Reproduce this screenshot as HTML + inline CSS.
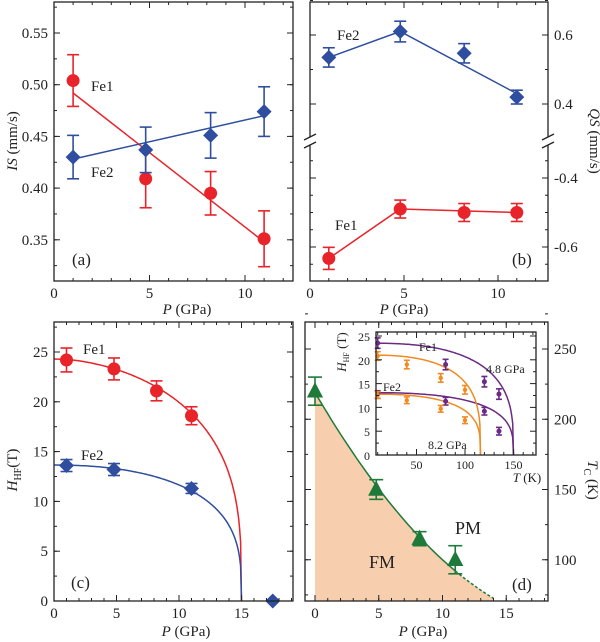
<!DOCTYPE html>
<html><head><meta charset="utf-8"><style>
html,body{margin:0;padding:0;background:#fff}
svg{display:block;font-family:"Liberation Serif",serif}
text{font-family:"Liberation Serif",serif}
</style></head><body>
<svg id="fig" width="600" height="642" viewBox="0 0 600 642" font-family="Liberation Serif, serif"></svg>
<script>
// ---------- data ----------
const pressA = [1, 4.8, 8.2, 11];
const isFe1 = [0.504, 0.409, 0.395, 0.351];
const isFe1Err = [0.025, 0.028, 0.021, 0.027];
const isFe2 = [0.430, 0.437, 0.451, 0.474];
const isFe2Err = [0.021, 0.022, 0.022, 0.024];
const isFe1Fit = [[1, 0.492], [11, 0.348]];
const isFe2Fit = [[1, 0.428], [11, 0.470]];

const qsFe2 = [0.535, 0.61, 0.547, 0.42];
const qsFe2Err = [0.028, 0.03, 0.028, 0.02];
const qsFe1 = [-0.633, -0.49, -0.5, -0.5];
const qsFe1Err = [0.032, 0.026, 0.026, 0.026];
const qsFe2Line = [[1, 0.535], [4.8, 0.61], [11, 0.43]];
const qsFe1Line = [[1, -0.633], [4.8, -0.49], [11, -0.5]];

const hfFe1P = [1, 4.8, 8.2, 11];
const hfFe1 = [24.2, 23.3, 21.1, 18.6];
const hfFe1Err = [1.2, 1.1, 1.0, 0.9];
const hfFe2P = [1, 4.8, 11, 17.5];
const hfFe2 = [13.6, 13.2, 11.3, 0];
const hfFe2Err = [0.6, 0.6, 0.5, 0];
const hfPc = 15;
const hfH0 = [24.3, 13.65];

const tcP = [0, 4.8, 8.2, 11];
const tcVal = [220, 150, 115, 100];
const tcErr = [10, 7, 5, 10];
const tcFitCoef = [219, -15.5, 0.36];

const inT48 = [10, 80, 120, 135];
const inFe1_48 = [23.5, 19, 15.4, 12.8];
const inFe2_48 = [12.7, 11.3, 9.2, 5];
const inT82 = [10, 40, 75, 100];
const inFe1_82 = [20.8, 19, 16.2, 13.7];
const inFe2_82 = [12.6, 11.5, 9.7, 7.3];
const inTc = [150, 116];
const inH0_48 = [23.5, 13.1];
const inH0_82 = [21, 12.8];

// ---------- helpers ----------
const NS = "http://www.w3.org/2000/svg";
const svg = document.getElementById("fig");
function el(tag, attrs, parent) {
  const e = document.createElementNS(NS, tag);
  for (const k in attrs) e.setAttribute(k, attrs[k]);
  (parent || svg).appendChild(e);
  return e;
}
function txt(x, y, s, opts, parent) {
  const t = el("text", Object.assign({x: x, y: y, "font-size": 15, fill: "#222", "font-family": "Liberation Serif, serif"}, opts || {}), parent);
  t.innerHTML = s;
  return t;
}
const RED = "#e8232a", BLUE = "#2f4e9f", GREEN = "#1f7a3a", PURPLE = "#6b2a84", ORANGE = "#f08a22";

function frame(x0, y0, x1, y1, name) {
  const r = el("rect", {x: x0, y: y0, width: x1 - x0, height: y1 - y0, fill: "none", stroke: "#222", "stroke-width": 1.3});
  
  
}
function xticks(sx, y0, y1, ticks, minor, labY, fs, name) {
  const g = el("g", {});
  
  
  minor.forEach(v => {
    el("line", {x1: sx(v), x2: sx(v), y1: y1, y2: y1 - 3, stroke: "#222"}, g);
    el("line", {x1: sx(v), x2: sx(v), y1: y0, y2: y0 + 3, stroke: "#222"}, g);
  });
  ticks.forEach(v => {
    el("line", {x1: sx(v), x2: sx(v), y1: y1, y2: y1 - 6, stroke: "#222"}, g);
    el("line", {x1: sx(v), x2: sx(v), y1: y0, y2: y0 + 6, stroke: "#222"}, g);
    if (labY) txt(sx(v), labY, String(v), {"text-anchor": "middle", "font-size": fs || 15}, g);
  });
}
function yticks(sy, x0, x1, ticks, minor, labels, side, fs, name) {
  const g = el("g", {});
  
  
  minor.forEach(v => {
    el("line", {x1: x0, x2: x0 + 3, y1: sy(v), y2: sy(v), stroke: "#222"}, g);
    el("line", {x1: x1, x2: x1 - 3, y1: sy(v), y2: sy(v), stroke: "#222"}, g);
  });
  ticks.forEach((v, i) => {
    el("line", {x1: x0, x2: x0 + 6, y1: sy(v), y2: sy(v), stroke: "#222"}, g);
    el("line", {x1: x1, x2: x1 - 6, y1: sy(v), y2: sy(v), stroke: "#222"}, g);
    if (labels) {
      if (side === "left") txt(x0 - 6, sy(v) + 5, labels[i], {"text-anchor": "end", "font-size": fs || 15}, g);
      else txt(x1 + 6, sy(v) + 5, labels[i], {"text-anchor": "start", "font-size": fs || 15}, g);
    }
  });
}
function range(a, b, s) { const r = []; for (let v = a; v <= b + 1e-9; v += s) r.push(+v.toFixed(4)); return r; }
function errbar(x, y1, y2, col, cap, g) {
  el("line", {x1: x, x2: x, y1: y1, y2: y2, stroke: col, "stroke-width": 1.6}, g);
  el("line", {x1: x - cap, x2: x + cap, y1: y1, y2: y1, stroke: col, "stroke-width": 1.6}, g);
  el("line", {x1: x - cap, x2: x + cap, y1: y2, y2: y2, stroke: col, "stroke-width": 1.6}, g);
}
function marker(shape, x, y, col, s, g) {
  if (shape === "circle") return el("circle", {cx: x, cy: y, r: s, fill: col}, g);
  if (shape === "diamond") return el("polygon", {points: `${x},${y - s} ${x + s},${y} ${x},${y + s} ${x - s},${y}`, fill: col}, g);
  if (shape === "tri") return el("polygon", {points: `${x},${y - s} ${x + s * 0.9},${y + s * 0.7} ${x - s * 0.9},${y + s * 0.7}`, fill: col}, g);
}
function series(xs, ys, errs, sx, sy, col, shape, size, cap, name) {
  const g = el("g", {});
  
  
  xs.forEach((p, i) => {
    if (errs[i] > 0) errbar(sx(p), sy(ys[i] + errs[i]), sy(ys[i] - errs[i]), col, cap, g);
    const m = marker(shape, sx(p), sy(ys[i]), col, size, g);
    
    
  });
}
function polyline(pts, sx, sy, col, name, extra) {
  const d = pts.map(p => sx(p[0]).toFixed(1) + "," + sy(p[1]).toFixed(1)).join(" ");
  const l = el("polyline", Object.assign({points: d, fill: "none", stroke: col, "stroke-width": 1.5}, extra || {}));
  
  
  return l;
}
function critCurve(H0, Pc, a, b, from, n) {
  const pts = [];
  for (let i = 0; i <= n; i++) {
    const p = from + (Pc - from) * Math.pow(i / n, 0.6);
    const r = 1 - Math.pow(p / Pc, a);
    pts.push([p, H0 * Math.pow(Math.max(r, 0), b)]);
  }
  return pts;
}

// ---------- panel (a) ----------
{
  const sx = p => 54 + p * 19.1;
  const sy = v => 33 + (0.55 - v) * 1034;
  polyline(isFe1Fit, sx, sy, RED, "fe1-is-fit");
  polyline(isFe2Fit, sx, sy, BLUE, "fe2-is-fit");
  series(pressA, isFe1, isFe1Err, sx, sy, RED, "circle", 6.5, 6, "fe1-is-series");
  series(pressA, isFe2, isFe2Err, sx, sy, BLUE, "diamond", 7.5, 6, "fe2-is-series");
  frame(54, 2, 293, 281, "panel-a-frame");
  xticks(sx, 2, 281, [0, 5, 10], range(0, 12, 1), 298, 15, "panel-a-x-ticks");
  const yt = [0.35, 0.40, 0.45, 0.50, 0.55];
  yticks(sy, 54, 293, yt, range(0.325, 0.575, 0.025), yt.map(v => v.toFixed(2)), "left", 15, "panel-a-y-ticks");
  txt(187, 314, "<tspan font-style='italic'>P</tspan> (GPa)", {"text-anchor": "middle"});
  txt(0, 0, "<tspan font-style='italic'>IS</tspan> (mm/s)", {"text-anchor": "middle", transform: "translate(17,141) rotate(-90)"});
  txt(91, 91, "Fe1");
  txt(91, 177, "Fe2");
  txt(72, 265, "(a)", {"font-size": 17});
}

// ---------- panel (b) ----------
{
  const sx = p => 310 + p * 18.8;
  const syU = v => 35 + (0.6 - v) * 345;
  const syL = v => 178 + (-0.4 - v) * 345;
  polyline(qsFe2Line, sx, syU, BLUE, "fe2-qs-line");
  polyline(qsFe1Line, sx, syL, RED, "fe1-qs-line");
  series(pressA, qsFe2, qsFe2Err, sx, syU, BLUE, "diamond", 7.5, 6, "fe2-qs-series");
  series(pressA, qsFe1, qsFe1Err, sx, syL, RED, "circle", 6.5, 6, "fe1-qs-series");
  frame(310, 2, 548, 281, "panel-b-frame");
  xticks(sx, 2, 281, [0, 5, 10], range(0, 12, 1), 298, 15, "panel-b-x-ticks");
  yticks(syU, 310, 548, [0.4, 0.6], [0.3, 0.5, 0.7], ["0.4", "0.6"], "right", 15, "panel-b-upper-y-ticks");
  yticks(syL, 310, 548, [-0.6, -0.4], [-0.65, -0.55, -0.5, -0.45, -0.35], ["-0.6", "-0.4"], "right", 15, "panel-b-lower-y-ticks");
  const br = el("g", {});
  
  
  [310, 548].forEach(x => {
    el("rect", {x: x - 3, y: 137, width: 6, height: 8, fill: "#fff"}, br);
    el("line", {x1: x - 6, x2: x + 6, y1: 140, y2: 134, stroke: "#222", "stroke-width": 1.3}, br);
    el("line", {x1: x - 6, x2: x + 6, y1: 148, y2: 142, stroke: "#222", "stroke-width": 1.3}, br);
  });
  txt(404, 314, "<tspan font-style='italic'>P</tspan> (GPa)", {"text-anchor": "middle"});
  txt(0, 0, "<tspan font-style='italic'>QS</tspan> (mm/s)", {"text-anchor": "middle", transform: "translate(590,141) rotate(90)"});
  txt(337, 40, "Fe2");
  txt(335, 230, "Fe1");
  txt(512, 265, "(b)", {"font-size": 17});
}

// ---------- panel (c) ----------
{
  const sx = p => 54 + p * 12.5;
  const sy = h => 601 - h * 9.96;
  polyline(critCurve(hfH0[0], hfPc, 1.8, 0.3, 0, 120), sx, sy, RED, "fe1-hf-fit");
  polyline(critCurve(hfH0[1], hfPc, 2.2, 0.3, 0, 120), sx, sy, BLUE, "fe2-hf-fit");
  series(hfFe1P, hfFe1, hfFe1Err, sx, sy, RED, "circle", 6.5, 6, "fe1-hf-series");
  series(hfFe2P, hfFe2, hfFe2Err, sx, sy, BLUE, "diamond", 7.5, 6, "fe2-hf-series");
  frame(54, 322, 293, 601, "panel-c-frame");
  xticks(sx, 322, 601, [0, 5, 10, 15], range(0, 19, 1), 618, 15, "panel-c-x-ticks");
  const yt = [0, 5, 10, 15, 20, 25];
  yticks(sy, 54, 293, yt, range(0, 27.5, 2.5), yt.map(String), "left", 15, "panel-c-y-ticks");
  txt(186, 636, "<tspan font-style='italic'>P</tspan> (GPa)", {"text-anchor": "middle"});
  txt(0, 0, "<tspan font-style='italic'>H</tspan><tspan font-size='10' dy='4'>HF</tspan><tspan dy='-4'>(T)</tspan>", {"text-anchor": "middle", transform: "translate(17,470) rotate(-90)"});
  txt(83, 354, "Fe1");
  txt(81, 460, "Fe2");
  txt(71, 588, "(c)", {"font-size": 17});
}

// ---------- panel (d) ----------
{
  const sx = p => 315 + p * 12.75;
  const sy = t => 349 + (250 - t) * 1.405;
  const tc = p => tcFitCoef[0] + tcFitCoef[1] * p + tcFitCoef[2] * p * p;
  const solid = [], dash = [];
  for (let p = 0; p <= 11.01; p += 0.25) solid.push([p, tc(p)]);
  for (let p = 11; p <= 14.01; p += 0.25) dash.push([p, tc(p)]);
  const fillPts = solid.concat(dash).map(q => sx(q[0]) + "," + sy(q[1])).join(" ") + ` ${sx(14)},601 ${sx(0)},601`;
  const f = el("polygon", {points: fillPts, fill: "#f7cfae"});
  
  
  polyline(solid, sx, sy, GREEN, "tc-fit");
  polyline(dash, sx, sy, GREEN, "tc-fit-extrapolation", {"stroke-dasharray": "3,2"});
  series(tcP, tcVal, tcErr, sx, sy, GREEN, "tri", 9, 7, "tc-series");
  frame(305, 322, 548, 601, "panel-d-frame");
  xticks(sx, 322, 601, [0, 5, 10, 15], range(0, 18, 1), 618, 15, "panel-d-x-ticks");
  const yt = [100, 150, 200, 250];
  yticks(sy, 305, 548, yt, range(75, 275, 25), yt.map(String), "right", 15, "panel-d-y-ticks");
  txt(423, 636, "<tspan font-style='italic'>P</tspan> (GPa)", {"text-anchor": "middle"});
  txt(0, 0, "<tspan font-style='italic'>T</tspan><tspan font-size='10' dy='4'>C</tspan><tspan dy='-4'> (K)</tspan>", {"text-anchor": "middle", transform: "translate(588,480) rotate(90)"});
  txt(382, 568, "FM", {"font-size": 18, "text-anchor": "middle"});
  txt(468, 534, "PM", {"font-size": 18, "text-anchor": "middle"});
  txt(512, 590, "(d)", {"font-size": 17});

  // inset
  const ix = t => 368 + t * 0.97;
  const iy = h => 455 - h * 4.76;
  const bg = el("rect", {x: 376, y: 332, width: 160, height: 123, fill: "#fff"});
  
  
  polyline(critCurve(inH0_48[0], inTc[0], 2.6, 0.3, 8, 100), ix, iy, PURPLE, "inset-fe1-48-fit");
  polyline(critCurve(inH0_48[1], inTc[0], 2.6, 0.3, 8, 100), ix, iy, PURPLE, "inset-fe2-48-fit");
  polyline(critCurve(inH0_82[0], inTc[1], 2.6, 0.28, 8, 100), ix, iy, ORANGE, "inset-fe1-82-fit");
  polyline(critCurve(inH0_82[1], inTc[1], 2.6, 0.28, 8, 100), ix, iy, ORANGE, "inset-fe2-82-fit");
  const z = [0, 0, 0, 0];
  series(inT48, inFe1_48, z.map(() => 1.1), ix, iy, PURPLE, "circle", 2.5, 3, "inset-fe1-48-series");
  series(inT48, inFe2_48, z.map(() => 0.8), ix, iy, PURPLE, "circle", 2.5, 3, "inset-fe2-48-series");
  series(inT82, inFe1_82, z.map(() => 0.9), ix, iy, ORANGE, "circle", 2.2, 3, "inset-fe1-82-series");
  series(inT82, inFe2_82, z.map(() => 0.7), ix, iy, ORANGE, "circle", 2.2, 3, "inset-fe2-82-series");
  frame(376, 332, 536, 455, "inset-frame");
  xticks(ix, 332, 455, [50, 100, 150], range(10, 170, 10), 469, 12, "inset-x-ticks");
  const it = [0, 5, 10, 15, 20, 25];
  yticks(iy, 376, 536, it, range(2.5, 22.5, 5), it.map(String), "left", 12, "inset-y-ticks");
  txt(527, 482, "<tspan font-style='italic'>T</tspan> (K)", {"text-anchor": "middle", "font-size": 13});
  txt(0, 0, "<tspan font-style='italic'>H</tspan><tspan font-size='8' dy='3'>HF</tspan><tspan dy='-3'> (T)</tspan>", {"text-anchor": "middle", "font-size": 13, transform: "translate(346,352) rotate(-90)"});
  txt(419, 351, "Fe1", {"font-size": 12});
  txt(486, 373, "4.8 GPa", {"font-size": 12});
  txt(383, 391, "Fe2", {"font-size": 12});
  txt(428, 449, "8.2 GPa", {"font-size": 12});
}
</script>
</body></html>
